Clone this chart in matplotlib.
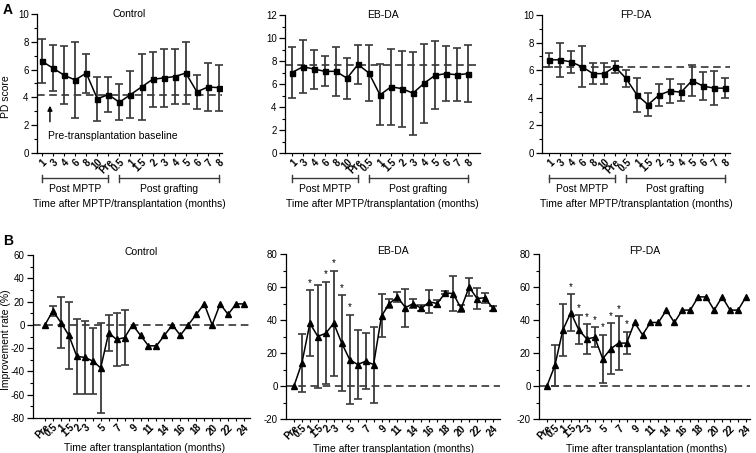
import matplotlib.pyplot as plt
import numpy as np

plt.rcParams['font.family'] = ['Liberation Sans', 'DejaVu Sans']
plt.rcParams['axes.unicode_minus'] = False

W, H = 756, 453

# ---- Panel A: PD score ----
a_ticks = ['1', '3', '4', '6', '8', '10', 'Pre', '0.5', '1', '1.5', '2', '3', '4', '5', '6', '7', '8']

ctrl_pd = [6.6, 6.1, 5.6, 5.25, 5.75, 3.9, 4.2, 3.65, 4.2, 4.75, 5.3, 5.4, 5.5, 5.75, 4.4, 4.75, 4.7]
ctrl_pd_err = [1.6, 1.65, 2.1, 2.7, 1.4, 1.6, 1.25, 1.3, 1.7, 2.4, 2.0, 2.1, 1.95, 2.2, 1.2, 1.75, 1.65]
ctrl_base = 4.2

eb_pd = [7.0, 7.5, 7.3, 7.1, 7.1, 6.5, 7.7, 6.95, 5.05, 5.75, 5.6, 5.2, 6.05, 6.75, 6.9, 6.8, 6.9]
eb_pd_err = [2.2, 2.3, 1.7, 1.3, 2.1, 1.8, 1.7, 2.45, 2.65, 3.3, 3.3, 3.6, 3.4, 2.95, 2.4, 2.3, 2.5]
eb_base = 7.65

fp_pd = [6.75, 6.75, 6.6, 6.25, 5.75, 5.75, 6.25, 5.4, 4.2, 3.5, 4.2, 4.5, 4.4, 5.25, 4.85, 4.7, 4.7]
fp_pd_err = [0.5, 1.25, 0.8, 1.5, 0.75, 0.75, 0.45, 0.6, 1.2, 0.85, 0.8, 0.85, 0.6, 1.1, 1.0, 1.25, 0.75]
fp_base = 6.25

# ---- Panel B: improvement rate ----
b_ticks = ['Pre', '0.5', '1', '1.5', '2', '3', '', '5', '', '7', '', '9', '', '11', '', '14', '',
           '16', '', '18', '', '20', '', '22', '', '24']

ctrl_ir = [0, 12, 2, -9, -27, -28, -31, -37, -7, -12.5, -11, 0, -9, -18, -18, -9, 0, -9, 0, 9, 18,
           0, 18, 9, 18, 18]
ctrl_ir_err = [np.nan, 4.5, 22, 29, 32, 31.5, 28, 38.5, 15.5, 23, 23.5]

eb_ir = [0, 14, 38, 30, 32, 38, 26, 16, 13, 15, 13, 42.5, 50, 54, 47.5, 50, 47, 51, 50, 56.5, 56,
         47, 60, 53, 53.5, 47]
eb_ir_err = [np.nan, 17.5, 20, 31.5, 31, 31.7, 29, 27, 21, 17, 23, 13, 2.5, 3, 11.5, 2.5, 1.8, 7, 2,
             1, 10.7, 2, 5.5, 6.5, 3, 1.5]
eb_star = [2, 4, 5, 6, 7]

fp_ir = [0, 12.5, 34, 44.5, 34, 28.5, 29.5, 16.5, 22.5, 26, 26, 38.5, 31, 38.5, 38.5, 46, 38.5, 46,
         46, 54, 54, 46, 54, 46, 46, 54]
fp_ir_err = [np.nan, 12.5, 16, 11, 8.8, 9, 6, 14.5, 15.5, 16.3, 6.8]
fp_star = [3, 4, 5, 6, 7, 8, 9, 10]


def px_axes(fig, left, right, top, bottom):
    return fig.add_axes([left / W, 1 - bottom / H, (right - left) / W, (bottom - top) / H])


def style_axes(ax, ylim, major, minor):
    ax.spines['top'].set_visible(False)
    ax.spines['right'].set_visible(False)
    ax.set_ylim(*ylim)
    ax.set_yticks(np.arange(ylim[0], ylim[1] + 0.001, major))
    ax.set_yticks(np.arange(ylim[0], ylim[1] + 0.001, minor), minor=True)
    ax.tick_params(axis='y', which='major', length=4, width=0.9, labelsize=7, pad=2)
    ax.tick_params(axis='y', which='minor', length=2, width=0.8)
    ax.tick_params(axis='x', length=2, width=0.8, pad=1)
    for s in ['left', 'bottom']:
        ax.spines[s].set_linewidth(0.9)


fig = plt.figure(figsize=(W / 100, H / 100), dpi=100)

a_boxes = [(37, 222, 14, 153), (285, 480, 15, 153), (542, 730, 15, 153)]
a_xlims = [(-0.45, 16.27), (-0.64, 17.1), (-0.64, 16.45)]
a_ylims = [(0, 10), (0, 12), (0, 10)]
a_sets = [('Control', ctrl_pd, ctrl_pd_err, ctrl_base),
          ('EB-DA', eb_pd, eb_pd_err, eb_base),
          ('FP-DA', fp_pd, fp_pd_err, fp_base)]

for i, (title, vals, errs, base) in enumerate(a_sets):
    ax = px_axes(fig, *a_boxes[i])
    x = np.arange(len(vals))
    ax.errorbar(x, vals, yerr=errs, fmt='none', ecolor='#3a3a3a', elinewidth=1.3,
                capsize=2.6, capthick=1.2, zorder=2)
    ax.plot(x, vals, '-s', color='black', lw=1.1, ms=3.6, zorder=3)
    ax.axhline(base, color='#222222', lw=1.1, dashes=(5, 3), zorder=1)
    style_axes(ax, a_ylims[i], 2, 1)
    ax.set_xlim(*a_xlims[i])
    ax.set_xticks(x)
    ax.set_xticklabels(a_ticks, rotation=45, ha='right', rotation_mode='anchor',
                       fontsize=7, fontweight='bold')
    ax.text(0.5, 1.0, title, transform=ax.transAxes, ha='center', va='center', fontsize=7.5)
    # brackets under the axis
    tr = ax.get_xaxis_transform()
    for x0, x1, lab in [(0, 6, 'Post MPTP'), (7, 16, 'Post grafting')]:
        ax.plot([x0, x1], [-0.183, -0.183], color='#3a3a3a', lw=1.0, transform=tr, clip_on=False)
        for xe in (x0, x1):
            ax.plot([xe, xe], [-0.158, -0.21], color='#3a3a3a', lw=1.0, transform=tr, clip_on=False)
        ax.text((x0 + x1) / 2, -0.262, lab, transform=tr, ha='center', va='center', fontsize=7.5)
    ax.text(0.5, -0.368, 'Time after MPTP/transplantation (months)', transform=ax.transAxes,
            ha='center', va='center', fontsize=7.5)
    if i == 0:
        ax.annotate('', xy=(0.72, 3.6), xytext=(0.72, 2.05),
                    arrowprops=dict(arrowstyle='-|>', color='black', lw=1.0, mutation_scale=7))
        ax.text(0.55, 1.25, 'Pre-transplantation baseline', ha='left', va='center', fontsize=7.5)

b_boxes = [(33, 250, 255, 418), (286, 500, 254, 419), (539, 750, 254, 419)]
b_xlims = [(-1.5, 25.75), (-1.0, 25.88), (-1.0, 25.5)]
b_ylims = [(-80, 60), (-20, 80), (-20, 80)]
b_sets = [('Control', ctrl_ir, ctrl_ir_err, []),
          ('EB-DA', eb_ir, eb_ir_err, eb_star),
          ('FP-DA', fp_ir, fp_ir_err, fp_star)]

for i, (title, vals, errs, stars) in enumerate(b_sets):
    ax = px_axes(fig, *b_boxes[i])
    x = np.arange(len(vals))
    n = len(errs)
    ax.errorbar(x[1:n], vals[1:n], yerr=errs[1:n], fmt='none', ecolor='#3a3a3a', elinewidth=1.3,
                capsize=2.6, capthick=1.2, zorder=2)
    ax.plot(x, vals, '-^', color='black', lw=1.1, ms=4.2, zorder=3)
    ax.axhline(0, color='#222222', lw=1.1, dashes=(5, 3), zorder=1)
    for s in stars:
        ax.text(x[s], vals[s] + errs[s] + 1.5, '*', ha='center', va='bottom', fontsize=7)
    style_axes(ax, b_ylims[i], 20, 10)
    ax.set_xlim(*b_xlims[i])
    ax.set_xticks(x)
    ax.set_xticklabels(b_ticks, rotation=45, ha='right', rotation_mode='anchor',
                       fontsize=7, fontweight='bold')
    ax.text(0.5, 1.02, title, transform=ax.transAxes, ha='center', va='center', fontsize=7.5)
    ax.text((len(vals) - 1) / 2, -0.184, 'Time after transplantation (months)',
            transform=ax.get_xaxis_transform(), ha='center', va='center', fontsize=7.5)

fig.text(6 / W, 1 - 97 / H, 'PD score', rotation=90, ha='center', va='center', fontsize=7.5)
fig.text(6 / W, 1 - 340 / H, 'Improvement rate (%)', rotation=90, ha='center', va='center',
         fontsize=7.5)
fig.text(3 / W, 1 - 10 / H, 'A', fontsize=10, fontweight='bold', ha='left', va='center')
fig.text(3 / W, 1 - 241 / H, 'B', fontsize=10, fontweight='bold', ha='left', va='center')

fig.savefig('out.png', dpi=100)
